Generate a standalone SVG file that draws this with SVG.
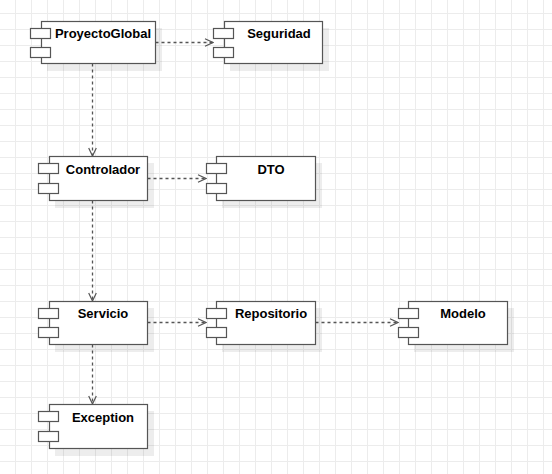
<svg xmlns="http://www.w3.org/2000/svg" width="552" height="474" viewBox="0 0 552 474">
<style>
.box{fill:#fff;stroke:#555;stroke-width:1.2}
.sh{fill:#000;fill-opacity:0.07;stroke:none}
.lbl{font-family:"Liberation Sans",Arial,sans-serif;font-size:13px;font-weight:bold;fill:#000;text-anchor:middle}
.edge{fill:none;stroke:#555;stroke-width:1.3;stroke-dasharray:3 3}
</style>
<defs>
<pattern id="grid" x="15" y="13" width="16" height="16" patternUnits="userSpaceOnUse">
<path d="M0 0.5H16M0.5 0V16" fill="none" stroke="#ececec" stroke-width="1"/>
</pattern>
<marker id="open" viewBox="0 0 10 10" refX="9" refY="5" markerWidth="10" markerHeight="10" markerUnits="userSpaceOnUse" orient="auto">
<path d="M1 1.2L9 5L1 8.8" fill="none" stroke="#555" stroke-width="1.2"/>
</marker>
</defs>
<rect width="552" height="474" fill="#fff"/>
<rect width="552" height="474" fill="url(#grid)"/>

<g id="connectors">
<path class="edge" d="M155.5 42.5H213" marker-end="url(#open)"/>
<path class="edge" d="M92.5 63.5V156" marker-end="url(#open)"/>
<path class="edge" d="M147.5 178.5H206" marker-end="url(#open)"/>
<path class="edge" d="M92.5 200.5V301" marker-end="url(#open)"/>
<path class="edge" d="M147.5 322.5H206" marker-end="url(#open)"/>
<path class="edge" d="M315.5 322.5H398" marker-end="url(#open)"/>
<path class="edge" d="M92.5 344.5V404" marker-end="url(#open)"/>
</g>

<g id="ProyectoGlobal">
<rect class="sh" x="47" y="28" width="115" height="43"/>
<rect class="box" x="41.5" y="21.5" width="114" height="42"/>
<rect class="box" x="30.5" y="28.5" width="20" height="10"/>
<rect class="box" x="30.5" y="47.5" width="20" height="10"/>
<text class="lbl" x="103" y="38">ProyectoGlobal</text>
</g>

<g id="Seguridad">
<rect class="sh" x="230" y="28" width="99" height="43"/>
<rect class="box" x="224.5" y="21.5" width="98" height="42"/>
<rect class="box" x="213.5" y="28.5" width="20" height="10"/>
<rect class="box" x="213.5" y="47.5" width="20" height="10"/>
<text class="lbl" x="279" y="38">Seguridad</text>
</g>

<g id="Controlador">
<rect class="sh" x="55" y="163" width="99" height="45"/>
<rect class="box" x="49.5" y="156.5" width="98" height="44"/>
<rect class="box" x="38.5" y="163.5" width="20" height="10"/>
<rect class="box" x="38.5" y="183.5" width="20" height="10"/>
<text class="lbl" x="103" y="174">Controlador</text>
</g>

<g id="DTO">
<rect class="sh" x="222" y="163" width="100" height="45"/>
<rect class="box" x="216.5" y="156.5" width="99" height="44"/>
<rect class="box" x="206.5" y="163.5" width="20" height="10"/>
<rect class="box" x="206.5" y="183.5" width="20" height="10"/>
<text class="lbl" x="271" y="174">DTO</text>
</g>

<g id="Servicio">
<rect class="sh" x="55" y="308" width="99" height="44"/>
<rect class="box" x="49.5" y="301.5" width="98" height="43"/>
<rect class="box" x="38.5" y="308.5" width="20" height="10"/>
<rect class="box" x="38.5" y="327.5" width="20" height="10"/>
<text class="lbl" x="103" y="318">Servicio</text>
</g>

<g id="Repositorio">
<rect class="sh" x="222" y="308" width="100" height="44"/>
<rect class="box" x="216.5" y="301.5" width="99" height="43"/>
<rect class="box" x="206.5" y="308.5" width="20" height="10"/>
<rect class="box" x="206.5" y="327.5" width="20" height="10"/>
<text class="lbl" x="271" y="318">Repositorio</text>
</g>

<g id="Modelo">
<rect class="sh" x="414" y="308" width="100" height="44"/>
<rect class="box" x="408.5" y="301.5" width="99" height="43"/>
<rect class="box" x="398.5" y="308.5" width="20" height="10"/>
<rect class="box" x="398.5" y="327.5" width="20" height="10"/>
<text class="lbl" x="463" y="318">Modelo</text>
</g>

<g id="Exception">
<rect class="sh" x="55" y="411" width="99" height="45"/>
<rect class="box" x="49.5" y="404.5" width="98" height="44"/>
<rect class="box" x="38.5" y="411.5" width="20" height="10"/>
<rect class="box" x="38.5" y="431.5" width="20" height="10"/>
<text class="lbl" x="103" y="422">Exception</text>
</g>
</svg>
